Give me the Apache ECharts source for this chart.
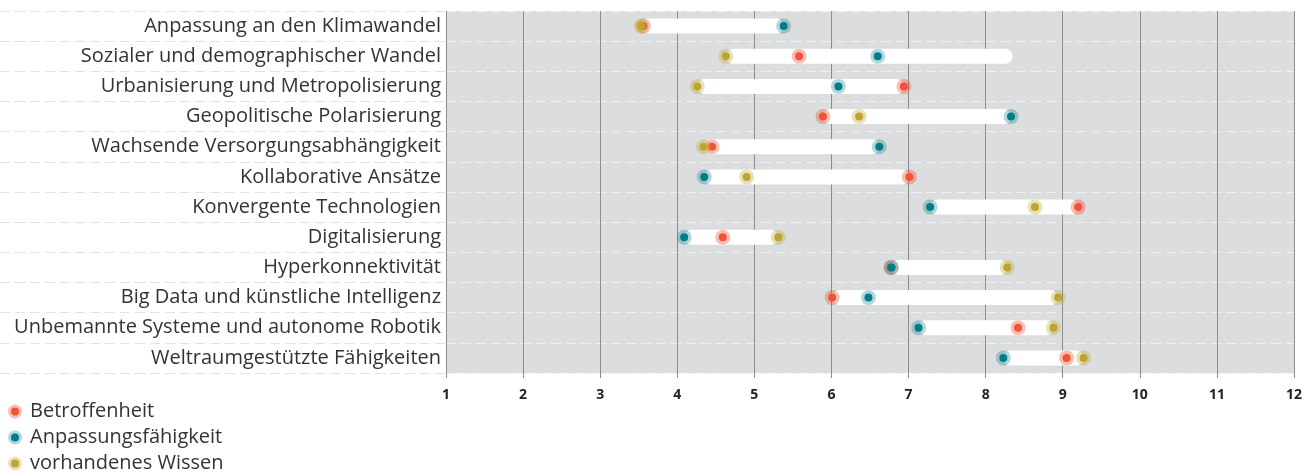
<!DOCTYPE html>
<html>
<head>
<meta charset="utf-8">
<script src="https://cdn.jsdelivr.net/npm/echarts@6/dist/echarts.min.js"></script>
<style>html,body{margin:0;padding:0;background:#fff}#c{width:1310px;height:472px}</style>
</head>
<body>
<div id="c"></div>
<script>
const categories = [
  'Anpassung an den Klimawandel',
  'Sozialer und demographischer Wandel',
  'Urbanisierung und Metropolisierung',
  'Geopolitische Polarisierung',
  'Wachsende Versorgungsabhängigkeit',
  'Kollaborative Ansätze',
  'Konvergente Technologien',
  'Digitalisierung',
  'Hyperkonnektivität',
  'Big Data und künstliche Intelligenz',
  'Unbemannte Systeme und autonome Robotik',
  'Weltraumgestützte Fähigkeiten'
];
const betroffenheit = [3.56, 5.58, 6.94, 5.89, 4.45, 7.01, 9.20, 4.59, 6.77, 6.01, 8.42, 9.05];
const anpassung     = [5.38, 6.60, 6.09, 8.33, 6.62, 4.35, 7.28, 4.09, 6.78, 6.48, 7.13, 8.23];
const wissen        = [3.53, 4.63, 4.26, 6.36, 4.34, 4.90, 8.64, 5.31, 8.28, 8.94, 8.88, 9.27];
const barStart      = [3.53, 4.63, 4.26, 5.89, 4.34, 4.35, 7.28, 4.09, 6.77, 6.01, 7.13, 8.23];
const barEnd        = [5.38, 8.35, 6.94, 8.33, 6.62, 7.01, 9.20, 5.31, 8.28, 8.94, 8.88, 9.27];
const xTicks = [1,2,3,4,5,6,7,8,9,10,11,12];

const FONT = 'Open Sans';
const chart = echarts.init(document.getElementById('c'), null, {renderer: 'canvas'});

function dotSeries(name, data, core, halo, z) {
  return {
    name, type: 'scatter', xAxisIndex: 0, yAxisIndex: 0,
    data: data.map((v, i) => [v, categories[i]]),
    symbol: 'circle', symbolSize: 8, z,
    itemStyle: {color: core, borderColor: halo, borderWidth: 7, opacity: 1},
    emphasis: {disabled: true}
  };
}

chart.setOption({
  animation: false,
  textStyle: {fontFamily: FONT},
  grid: [
    {left: 446, right: 16, top: 11, bottom: 99, show: true, backgroundColor: '#dcdddf', borderWidth: 0, containLabel: false},
    {left: 0, width: 446, top: 11, bottom: 99, show: false, containLabel: false}
  ],
  xAxis: [
    {type: 'value', gridIndex: 0, min: xTicks[0], max: xTicks[xTicks.length-1], interval: 1,
     axisLine: {show: false},
     axisTick: {show: true, length: 5, lineStyle: {color: '#8c8c8c', width: 1}},
     splitLine: {show: true, lineStyle: {color: '#8c8c8c', width: 1}},
     axisLabel: {margin: 15, color: '#222', fontWeight: 'bold', fontSize: 14, fontFamily: FONT}},
    {type: 'value', gridIndex: 1, show: false, min: 0, max: 1}
  ],
  yAxis: [
    {type: 'category', gridIndex: 0, data: categories, inverse: true,
     axisLine: {show: false}, axisTick: {show: false},
     splitLine: {show: true, lineStyle: {color: '#f0f0f0', type: [10, 5], width: 1}},
     axisLabel: {margin: 5, color: '#333', fontSize: 20, fontFamily: FONT, padding: [2, 0, 0, 0]}},
    {type: 'category', gridIndex: 1, data: categories, inverse: true,
     axisLine: {show: false}, axisTick: {show: false}, axisLabel: {show: false},
     splitLine: {show: true, lineStyle: {color: '#e2e2e2', type: [10, 5], width: 1}}}
  ],
  legend: {
    orient: 'vertical', left: 8, top: 401.5, height: 120, itemGap: 6, padding: 0,
    itemWidth: 20, itemHeight: 8, icon: 'circle',
    data: ['Betroffenheit', 'Anpassungsfähigkeit', 'vorhandenes Wissen'],
    itemStyle: {borderWidth: 6},
    textStyle: {fontSize: 20, lineHeight: 18, color: '#333', fontFamily: FONT},
    selectedMode: false
  },
  series: [
    {type: 'bar', name: 'base', stack: 'r', xAxisIndex: 0, yAxisIndex: 0, barWidth: 15,
     data: barStart, itemStyle: {color: 'rgba(0,0,0,0)'}, silent: true, z: 2},
    {type: 'bar', name: 'range', stack: 'r', xAxisIndex: 0, yAxisIndex: 0, barWidth: 15,
     data: barEnd.map((e, i) => e - barStart[i]), itemStyle: {color: '#ffffff', borderRadius: 8}, silent: true, z: 2},
    dotSeries('Betroffenheit', betroffenheit, '#f05537', 'rgba(240,85,55,0.38)', 4),
    dotSeries('vorhandenes Wissen', wissen, '#bea532', 'rgba(190,165,50,0.35)', 5),
    dotSeries('Anpassungsfähigkeit', anpassung, '#007d87', 'rgba(0,125,135,0.3)', 6)
  ]
});
</script>
</body>
</html>
